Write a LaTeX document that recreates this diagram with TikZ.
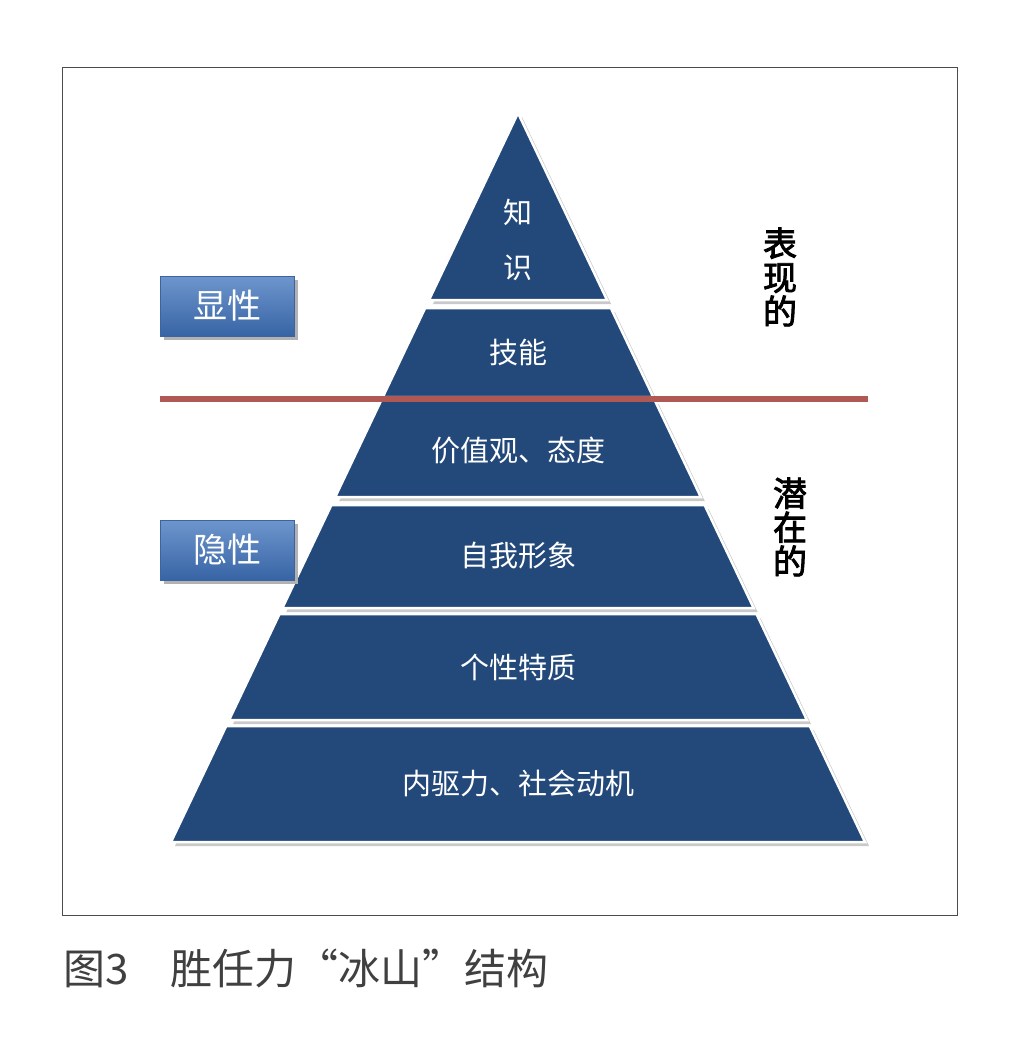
\documentclass[tikz,border=0pt]{standalone}
\usepackage{fontspec}
\newfontfamily\cjk{Noto Sans CJK SC}
\newfontfamily\cjkb[FakeBold=2.5]{Noto Sans CJK SC}
\definecolor{lay}{RGB}{35,72,122}
\definecolor{redl}{RGB}{176,88,84}
\definecolor{tagd}{RGB}{60,100,160}
\definecolor{tagt}{RGB}{110,150,205}
\definecolor{tagb}{RGB}{55,100,165}
\begin{document}
\begin{tikzpicture}[x=1pt,y=-1pt,
  layer/.style={fill=lay,draw=white,line width=2.5pt,line join=miter},
  shadowl/.style={fill=black!35,opacity=0.6},
  ltext/.style={text=white,font=\cjk\fontsize{29}{32}\selectfont},
  tag/.style={draw=tagd,line width=0.6pt,top color=tagt,bottom color=tagb,minimum width=134pt,minimum height=60pt,text=white,font=\cjk\fontsize{34}{36}\selectfont},
  side/.style={font=\cjkb\fontsize{34}{36}\selectfont,align=center}]
\useasboundingbox (0,0) rectangle (1012,1046);
\fill[white] (0,0) rectangle (1012,1046);
\draw[black!70,line width=0.8pt] (62,67) rectangle (957,915);
\foreach \t/\b in {113/300,308/397,400/497,505/608,614/720,726/842}{
  \pgfmathsetmacro\wt{0.476*(\t-113)}
  \pgfmathsetmacro\wb{0.476*(\b-113)}
  \fill[shadowl] (518-\wt+4,\t+4) -- (518+\wt+4,\t+4) -- (518+\wb+4,\b+4) -- (518-\wb+4,\b+4) -- cycle;
  \draw[layer] (518-\wt,\t) -- (518+\wt,\t) -- (518+\wb,\b) -- (518-\wb,\b) -- cycle;
}
\node[ltext] (zhi) at (518,212) {知};
\node[ltext] (shi) at (518,268) {识};
\node[ltext] (jn) at (518,352) {技能};
\node[ltext] (jz) at (518,451) {价值观、态度};
\node[ltext] (zw) at (518,556) {自我形象};
\node[ltext] (gx) at (518,667) {个性特质};
\node[ltext] (nq) at (518,783) {内驱力、社会动机};
\draw[redl,line width=6pt] (160,399) -- (868,399);
\fill[black!30] (164,280) rectangle (298,340);
\node[tag] (xx) at (227,306) {显性};
\fill[black!30] (164,524) rectangle (298,584);
\node[tag] (yx) at (227,550) {隐性};
\node[side] (bx) at (780,277) {表\\[-2pt]现\\[-2pt]的};
\node[side] (qz) at (790,527) {潜\\[-2pt]在\\[-2pt]的};
\node[anchor=west,text=black!75,font=\cjk\fontsize{42}{44}\selectfont] (cap) at (60,968) {图3\hspace{42pt}胜任力“冰山”结构};
\end{tikzpicture}
\end{document}
